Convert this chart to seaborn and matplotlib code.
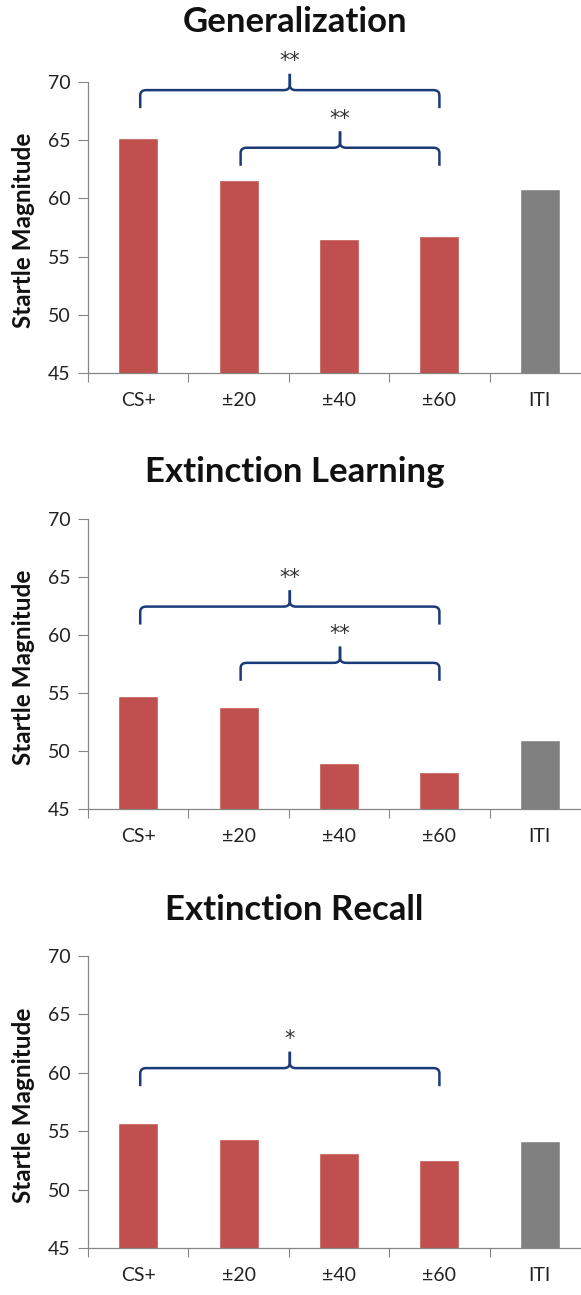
import matplotlib
matplotlib.use("Agg")
import matplotlib.pyplot as plt
from matplotlib.path import Path
from matplotlib.patches import PathPatch
import seaborn as sns
import pandas as pd

# --- data -------------------------------------------------------------
categories = ["CS+", "\u00b120", "\u00b140", "\u00b160", "ITI"]
generalization = [65.2, 61.6, 56.5, 56.75, 60.8]
extinction_learning = [54.75, 53.8, 49.0, 48.2, 50.95]
extinction_recall = [55.7, 54.3, 53.1, 52.55, 54.15]

panel_titles = ["Generalization", "Extinction Learning", "Extinction Recall"]
y_ticks = [45, 50, 55, 60, 65, 70]

# significance brackets: (first category, last category, bracket level, label)
brackets = [
    [(0, 3, 69.3, "**"), (1, 3, 64.35, "**")],
    [(0, 3, 62.45, "**"), (1, 3, 57.6, "**")],
    [(0, 3, 60.4, "*")],
]

# --- style ------------------------------------------------------------
sns.set_style("white")
plt.rcParams["font.family"] = ["Lato", "DejaVu Sans"]

BAR_RED = "#C0504D"
BAR_GREY = "#808080"
AXIS_GREY = "#868686"
BRACE_BLUE = "#1B3A78"
palette = {c: BAR_RED for c in categories}
palette["ITI"] = BAR_GREY

fig = plt.figure(figsize=(5.81, 12.95), dpi=100)

# axes boxes in figure fractions: left, bottom, width, height
ax_left = 0.1515
ax_width = 0.864
ax_boxes = [(0.7120, 0.2247), (0.3753, 0.2239), (0.0363, 0.2255)]
title_y = [0.983, 0.6355, 0.2973]


def draw_brace(ax, x0, x1, y, label, drop=1.55, tip=1.4):
    xm = (x0 + x1) / 2.0
    rx, ry = 0.06, 0.45
    for xe, sgn in ((x0, 1), (x1, -1)):
        verts = [
            (xe, y - drop),
            (xe, y - ry),
            (xe, y),
            (xe + sgn * rx, y),
            (xm - sgn * rx, y),
            (xm, y),
            (xm, y + ry),
            (xm, y + tip),
        ]
        codes = [Path.MOVETO, Path.LINETO, Path.CURVE3, Path.CURVE3,
                 Path.LINETO, Path.CURVE3, Path.CURVE3, Path.LINETO]
        patch = PathPatch(Path(verts, codes), facecolor="none",
                          edgecolor=BRACE_BLUE, lw=1.8, clip_on=False,
                          capstyle="butt", joinstyle="round")
        ax.add_patch(patch)
    ax.text(xm, y + tip + 0.2, label, ha="center", va="bottom",
            fontsize=15, color="#333333", family="DejaVu Sans",
            clip_on=False)


for i, values in enumerate([generalization, extinction_learning, extinction_recall]):
    bottom, height = ax_boxes[i]
    ax = fig.add_axes([ax_left, bottom, ax_width, height])
    df = pd.DataFrame({"condition": categories, "startle": values})
    sns.barplot(data=df, x="condition", y="startle", hue="condition",
                palette=palette, order=categories, width=0.4,
                legend=False, ax=ax, saturation=1)

    ax.set_ylim(45, 70)
    ax.set_xlim(-0.5, 4.5)
    ax.set_yticks(y_ticks)
    ax.set_yticklabels([str(t) for t in y_ticks])

    # category boundaries carry the tick marks, labels sit between them
    ax.set_xticks([k - 0.5 for k in range(len(categories) + 1)])
    ax.set_xticklabels([])
    ax.set_xticks(range(len(categories)), minor=True)
    ax.set_xticklabels(categories, minor=True)
    ax.tick_params(axis="x", which="major", direction="out", length=6.5,
                   width=0.8, color=AXIS_GREY, bottom=True)
    ax.tick_params(axis="x", which="minor", length=0, pad=13.5,
                   labelsize=14, labelcolor="#222222")
    ax.tick_params(axis="y", direction="out", length=7.5, width=0.8,
                   color=AXIS_GREY, left=True, pad=5, labelsize=14,
                   labelcolor="#222222")

    for side in ("top", "right"):
        ax.spines[side].set_visible(False)
    for side in ("left", "bottom"):
        ax.spines[side].set_color(AXIS_GREY)
        ax.spines[side].set_linewidth(0.9)

    ax.set_xlabel("")
    ax.set_ylabel("Startle Magnitude", fontsize=17.5, fontweight="bold",
                  color="#111111")
    ax.yaxis.set_label_coords(-0.106, 0.49)

    for (a, b, lvl, lab) in brackets[i]:
        draw_brace(ax, a + 0.02, b, lvl, lab)

    fig.text(0.507, title_y[i], panel_titles[i], ha="center", va="center",
             fontsize=25, fontweight="bold", color="#111111")

fig.savefig("out.png", dpi=100)
